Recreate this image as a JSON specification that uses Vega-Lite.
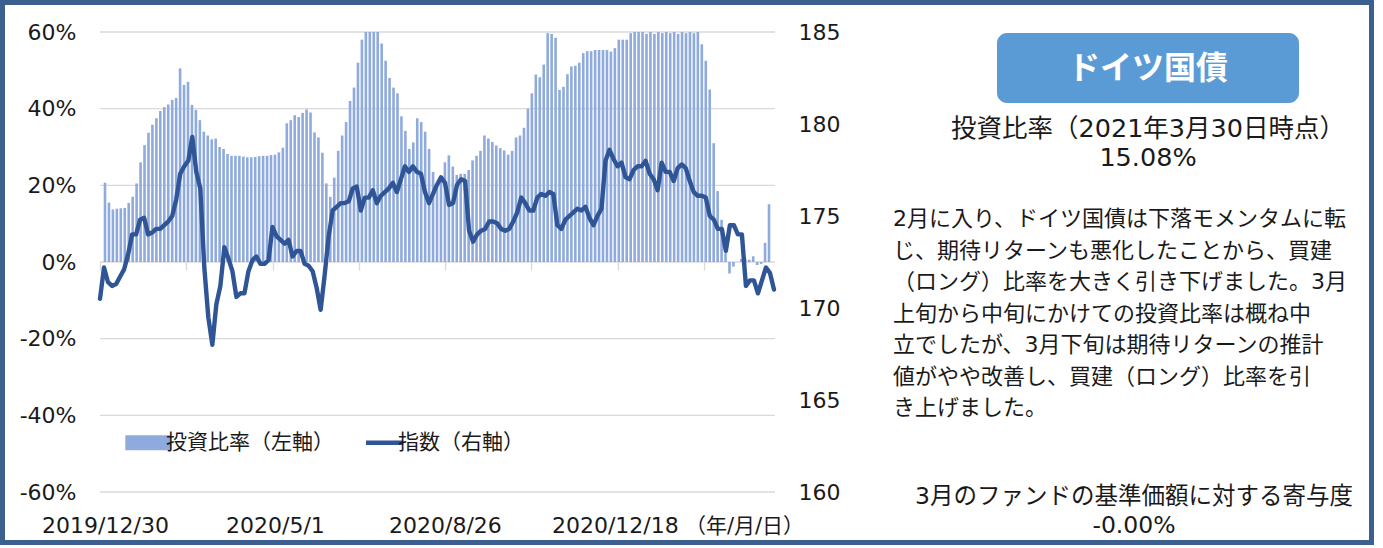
{
  "$schema": "https://vega.github.io/schema/vega-lite/v6.json",
  "width": 1374,
  "height": 545,
  "autosize": {"type": "none"},
  "padding": 0,
  "background": "white",
  "config": {"view": {"stroke": "#3B5F8E", "strokeWidth": 10, "fill": "white"}, "font": "DejaVu Sans"},
  "datasets": {
    "series": [
      {"day":0,"ratio":20.7,"index":170.5},{"day":2,"ratio":15.5,"index":172.2},{"day":4,"ratio":13.7,"index":171.4},{"day":6,"ratio":13.9,"index":171.2},
      {"day":8,"ratio":14.0,"index":171.3},{"day":10,"ratio":14.1,"index":171.7},{"day":12,"ratio":15.4,"index":172.1},{"day":14,"ratio":17.0,"index":172.9},
      {"day":16,"ratio":20.5,"index":174.0},{"day":18,"ratio":26.0,"index":174.0},{"day":20,"ratio":30.5,"index":174.8},{"day":22,"ratio":33.7,"index":174.9},
      {"day":24,"ratio":35.8,"index":174.0},{"day":26,"ratio":37.5,"index":174.1},{"day":28,"ratio":39.4,"index":174.3},{"day":30,"ratio":40.4,"index":174.3},
      {"day":32,"ratio":41.1,"index":174.5},{"day":34,"ratio":42.3,"index":174.7},{"day":36,"ratio":42.8,"index":175.0},{"day":38,"ratio":50.5,"index":175.9},
      {"day":40,"ratio":46.2,"index":177.3},{"day":42,"ratio":47.0,"index":177.7},{"day":44,"ratio":41.0,"index":178.0},{"day":46,"ratio":39.7,"index":179.3},
      {"day":48,"ratio":37.0,"index":177.4},{"day":50,"ratio":34.0,"index":176.5},{"day":52,"ratio":33.0,"index":172.2},{"day":54,"ratio":32.0,"index":169.5},
      {"day":56,"ratio":32.2,"index":168.0},{"day":58,"ratio":30.0,"index":170.2},{"day":60,"ratio":29.5,"index":171.2},{"day":62,"ratio":28.2,"index":173.3},
      {"day":64,"ratio":27.7,"index":172.7},{"day":66,"ratio":27.7,"index":172.0},{"day":68,"ratio":27.7,"index":170.6},{"day":70,"ratio":27.5,"index":170.8},
      {"day":72,"ratio":27.3,"index":170.8},{"day":74,"ratio":27.3,"index":172.0},{"day":76,"ratio":27.4,"index":172.6},{"day":78,"ratio":27.6,"index":172.8},
      {"day":80,"ratio":27.7,"index":172.4},{"day":82,"ratio":27.7,"index":172.4},{"day":84,"ratio":27.9,"index":172.6},{"day":86,"ratio":28.0,"index":174.4},
      {"day":88,"ratio":28.6,"index":173.9},{"day":90,"ratio":29.8,"index":173.7},{"day":92,"ratio":36.2,"index":173.5},{"day":94,"ratio":37.0,"index":173.7},
      {"day":96,"ratio":38.3,"index":172.8},{"day":98,"ratio":37.8,"index":173.1},{"day":100,"ratio":38.9,"index":173.1},{"day":102,"ratio":39.8,"index":172.4},
      {"day":104,"ratio":39.0,"index":172.3},{"day":106,"ratio":33.8,"index":172.0},{"day":108,"ratio":32.5,"index":171.1},{"day":110,"ratio":28.5,"index":169.9},
      {"day":112,"ratio":20.5,"index":171.8},{"day":114,"ratio":17.0,"index":173.9},{"day":116,"ratio":22.0,"index":175.3},{"day":118,"ratio":29.0,"index":175.5},
      {"day":120,"ratio":33.0,"index":175.7},{"day":122,"ratio":36.5,"index":175.7},{"day":124,"ratio":42.0,"index":175.8},{"day":126,"ratio":45.5,"index":176.5},
      {"day":128,"ratio":52.0,"index":176.6},{"day":130,"ratio":58.0,"index":175.3},{"day":132,"ratio":60.0,"index":176.0},{"day":134,"ratio":60.0,"index":176.0},
      {"day":136,"ratio":60.0,"index":176.4},{"day":138,"ratio":60.0,"index":175.7},{"day":140,"ratio":57.0,"index":176.1},{"day":142,"ratio":52.5,"index":176.3},
      {"day":144,"ratio":48.0,"index":176.5},{"day":146,"ratio":45.5,"index":176.8},{"day":148,"ratio":44.0,"index":176.3},{"day":150,"ratio":38.0,"index":177.0},
      {"day":152,"ratio":34.2,"index":177.7},{"day":154,"ratio":29.5,"index":177.4},{"day":156,"ratio":31.2,"index":177.7},{"day":158,"ratio":37.5,"index":177.4},
      {"day":160,"ratio":36.5,"index":177.3},{"day":162,"ratio":34.0,"index":176.3},{"day":164,"ratio":29.5,"index":175.7},{"day":166,"ratio":23.5,"index":176.2},
      {"day":168,"ratio":20.0,"index":176.7},{"day":170,"ratio":22.5,"index":177.1},{"day":172,"ratio":26.0,"index":176.8},{"day":174,"ratio":27.8,"index":175.6},
      {"day":176,"ratio":24.9,"index":175.7},{"day":178,"ratio":22.7,"index":176.7},{"day":180,"ratio":23.0,"index":177.0},{"day":182,"ratio":23.0,"index":176.9},
      {"day":184,"ratio":24.0,"index":174.2},{"day":186,"ratio":26.5,"index":173.6},{"day":188,"ratio":27.7,"index":174.0},{"day":190,"ratio":29.0,"index":174.2},
      {"day":192,"ratio":33.0,"index":174.3},{"day":194,"ratio":32.2,"index":174.7},{"day":196,"ratio":31.3,"index":174.7},{"day":198,"ratio":30.4,"index":174.6},
      {"day":200,"ratio":29.7,"index":174.3},{"day":202,"ratio":29.1,"index":174.2},{"day":204,"ratio":28.0,"index":174.3},{"day":206,"ratio":29.0,"index":174.7},
      {"day":208,"ratio":32.5,"index":175.2},{"day":210,"ratio":33.0,"index":176.0},{"day":212,"ratio":35.0,"index":175.7},{"day":214,"ratio":40.0,"index":175.3},
      {"day":216,"ratio":44.0,"index":175.3},{"day":218,"ratio":48.9,"index":176.0},{"day":220,"ratio":48.2,"index":176.2},{"day":222,"ratio":51.5,"index":176.1},
      {"day":224,"ratio":59.7,"index":176.3},{"day":226,"ratio":59.5,"index":176.2},{"day":228,"ratio":58.5,"index":174.5},{"day":230,"ratio":44.9,"index":174.3},
      {"day":232,"ratio":45.7,"index":174.8},{"day":234,"ratio":49.0,"index":175.0},{"day":236,"ratio":51.0,"index":175.2},{"day":238,"ratio":51.2,"index":175.4},
      {"day":240,"ratio":52.0,"index":175.3},{"day":242,"ratio":54.5,"index":175.5},{"day":244,"ratio":55.0,"index":174.9},{"day":246,"ratio":55.0,"index":174.5},
      {"day":248,"ratio":55.3,"index":175.0},{"day":250,"ratio":55.3,"index":175.4},{"day":252,"ratio":55.3,"index":178.0},{"day":254,"ratio":55.3,"index":178.6},
      {"day":256,"ratio":54.9,"index":178.1},{"day":258,"ratio":55.8,"index":177.7},{"day":260,"ratio":58.0,"index":177.9},{"day":262,"ratio":58.0,"index":177.1},
      {"day":264,"ratio":58.0,"index":177.0},{"day":266,"ratio":59.7,"index":177.5},{"day":268,"ratio":60.0,"index":177.7},{"day":270,"ratio":60.0,"index":177.7},
      {"day":272,"ratio":60.0,"index":178.0},{"day":274,"ratio":59.5,"index":177.3},{"day":276,"ratio":60.0,"index":177.0},{"day":278,"ratio":59.5,"index":176.4},
      {"day":280,"ratio":60.0,"index":177.9},{"day":282,"ratio":59.7,"index":177.4},{"day":284,"ratio":60.0,"index":177.4},{"day":286,"ratio":59.7,"index":176.9},
      {"day":288,"ratio":60.0,"index":177.6},{"day":290,"ratio":59.5,"index":177.8},{"day":292,"ratio":60.0,"index":177.6},{"day":294,"ratio":59.7,"index":176.9},
      {"day":296,"ratio":60.0,"index":176.3},{"day":298,"ratio":59.7,"index":176.1},{"day":300,"ratio":60.0,"index":176.1},{"day":302,"ratio":56.8,"index":176.0},
      {"day":304,"ratio":52.5,"index":175.0},{"day":306,"ratio":45.0,"index":174.8},{"day":308,"ratio":31.0,"index":174.3},{"day":310,"ratio":18.5,"index":174.3},
      {"day":312,"ratio":11.0,"index":173.1},{"day":314,"ratio":2.3,"index":174.5},{"day":316,"ratio":-3.0,"index":174.5},{"day":318,"ratio":-1.2,"index":174.0},
      {"day":320,"ratio":0.0,"index":174.0},{"day":322,"ratio":0.8,"index":171.2},{"day":324,"ratio":0.8,"index":171.5},{"day":326,"ratio":0.6,"index":171.5},
      {"day":328,"ratio":1.5,"index":170.8},{"day":330,"ratio":-0.8,"index":171.5},{"day":332,"ratio":-0.5,"index":172.2},{"day":334,"ratio":5.0,"index":171.9},
      {"day":336,"ratio":15.08,"index":171.0}
    ],
    "grid": [{"pct":-60},{"pct":-40},{"pct":-20},{"pct":0},{"pct":20},{"pct":40},{"pct":60}],
    "panel": [
      {"block":"title","text":"ドイツ国債"},
      {"block":"heading","text":["投資比率（2021年3月30日時点）","15.08%"]},
      {"block":"body","text":["2月に入り、ドイツ国債は下落モメンタムに転","じ、期待リターンも悪化したことから、買建","（ロング）比率を大きく引き下げました。3月","上旬から中旬にかけての投資比率は概ね中","立でしたが、3月下旬は期待リターンの推計","値がやや改善し、買建（ロング）比率を引","き上げました。"]},
      {"block":"footer","text":["3月のファンドの基準価額に対する寄与度","-0.00%"]}
    ]
  },
  "layer": [
    {
      "data": {"name": "grid"},
      "mark": {"type": "rule", "color": "#D9D9D9", "strokeWidth": 1.3},
      "encoding": {
        "y": {"field": "pct", "type": "quantitative", "scale": {"domain": [-60, 60], "range": [492, 32], "nice": false, "zero": false}, "axis": null},
        "x": {"datum": 0, "type": "quantitative", "scale": {"domain": [0, 336.5], "range": [100, 775], "nice": false, "zero": false}, "axis": null},
        "x2": {"datum": 336.5}
      }
    },
    {
      "data": {"name": "series"},
      "mark": {"type": "bar", "width": 2.6},
      "encoding": {
        "x": {"field": "day", "type": "quantitative", "scale": {"domain": [0, 336.5], "range": [100, 775], "nice": false, "zero": false},
          "axis": {"orient": "bottom", "offset": -53, "values": [0, 86, 172, 258],
            "labelExpr": "datum.value == 0 ? '2019/12/30' : datum.value == 86 ? '2020/5/1' : datum.value == 172 ? '2020/8/26' : '2020/12/18'",
            "grid": false, "domain": false, "ticks": false, "tickSize": 0, "labelPadding": 23,
            "labelFont": "DejaVu Sans", "labelFontSize": 22, "labelColor": "#1a1a1a", "labelFlush": false, "labelOverlap": false,
            "title": "（年/月/日）", "titleX": 744, "titleY": 23, "titleAlign": "center", "titleBaseline": "top", "titleAngle": 0,
            "titleFont": "DejaVu Sans, Noto Sans CJK JP", "titleFontSize": 21, "titleFontWeight": "normal", "titleColor": "#1a1a1a"}},
        "y": {"field": "ratio", "type": "quantitative", "scale": {"domain": [-60, 60], "range": [492, 32], "nice": false},
          "axis": {"orient": "left", "offset": -100, "values": [-60, -40, -20, 0, 20, 40, 60], "labelExpr": "datum.value + '%'",
            "grid": false, "domain": false, "ticks": false, "tickSize": 0, "labelPadding": 24,
            "labelFont": "DejaVu Sans", "labelFontSize": 22, "labelColor": "#1a1a1a", "labelFlush": false, "title": null}},
        "color": {"datum": "投資比率（左軸）", "type": "nominal",
          "scale": {"domain": ["投資比率（左軸）", "指数（右軸）"], "range": ["#8FAADC", "#2F5597"]},
          "legend": {"orient": "none", "legendX": 142, "legendY": 432, "direction": "horizontal", "title": null,
            "labelFont": "Noto Sans CJK JP", "labelFontSize": 21, "labelColor": "#1a1a1a", "labelLimit": 400,
            "symbolSize": 1369, "labelOffset": 3, "columnPadding": 23, "padding": 0,
            "encode": {"symbols": {"update": {
              "shape": {"signal": "datum.value === '指数（右軸）' ? 'stroke' : 'M-1.47,-0.4H0.99V0.4H-1.47Z'"},
              "fill": {"signal": "datum.value === '指数（右軸）' ? 'transparent' : '#8FAADC'"},
              "stroke": {"signal": "datum.value === '指数（右軸）' ? '#2F5597' : 'transparent'"},
              "strokeWidth": {"signal": "datum.value === '指数（右軸）' ? 4.5 : 0"},
              "opacity": {"value": 1}
            }}}}}
      }
    },
    {
      "data": {"name": "series"},
      "mark": {"type": "line", "strokeWidth": 4.4, "strokeJoin": "round", "strokeCap": "round"},
      "encoding": {
        "x": {"field": "day", "type": "quantitative", "scale": {"domain": [0, 336.5], "range": [100, 775], "nice": false, "zero": false},
          "axis": {"orient": "bottom", "offset": -283, "values": [0, 43, 86, 129, 172, 215, 258, 301],
            "labels": false, "domain": false, "ticks": true, "tickSize": 8, "tickColor": "#D9D9D9", "tickWidth": 1.3, "grid": false, "title": null}},
        "y": {"field": "index", "type": "quantitative", "scale": {"domain": [160, 185], "range": [492, 32], "nice": false, "zero": false},
          "axis": {"orient": "right", "offset": -599, "values": [160, 165, 170, 175, 180, 185],
            "grid": false, "domain": false, "ticks": false, "tickSize": 0, "labelPadding": 23,
            "labelFont": "DejaVu Sans", "labelFontSize": 22, "labelColor": "#1a1a1a", "labelFlush": false, "title": null}},
        "color": {"datum": "指数（右軸）", "type": "nominal", "legend": null}
      }
    },
    {
      "data": {"name": "panel"},
      "transform": [{"filter": "datum.block === 'title'"}],
      "mark": {"type": "rect", "x": 997, "x2": 1299, "y": 33, "y2": 103, "cornerRadius": 10, "color": "#5B9BD5"},
      "encoding": {}
    },
    {
      "data": {"name": "panel"},
      "transform": [{"filter": "datum.block === 'title'"}],
      "mark": {"type": "text", "x": 1148, "y": 69, "align": "center", "baseline": "middle", "font": "Noto Sans CJK JP", "fontSize": 32, "fontWeight": "bold", "color": "white"},
      "encoding": {"text": {"field": "text"}}
    },
    {
      "data": {"name": "panel"},
      "transform": [{"filter": "datum.block === 'heading'"}],
      "mark": {"type": "text", "x": 1148, "y": 129, "align": "center", "baseline": "middle", "lineHeight": 29, "font": "DejaVu Sans, Noto Sans CJK JP", "fontSize": 25.5, "color": "#1a1a1a"},
      "encoding": {"text": {"field": "text"}}
    },
    {
      "data": {"name": "panel"},
      "transform": [{"filter": "datum.block === 'body'"}],
      "mark": {"type": "text", "x": 893, "y": 219, "align": "left", "baseline": "middle", "lineHeight": 31.5, "font": "DejaVu Sans, Noto Sans CJK JP", "fontSize": 22, "color": "#1a1a1a"},
      "encoding": {"text": {"field": "text"}}
    },
    {
      "data": {"name": "panel"},
      "transform": [{"filter": "datum.block === 'footer'"}],
      "mark": {"type": "text", "x": 1134, "y": 497, "align": "center", "baseline": "middle", "lineHeight": 29, "font": "DejaVu Sans, Noto Sans CJK JP", "fontSize": 23.5, "color": "#1a1a1a"},
      "encoding": {"text": {"field": "text"}}
    }
  ],
  "resolve": {"scale": {"x": "independent", "y": "independent"}, "axis": {"x": "independent", "y": "independent"}}
}
